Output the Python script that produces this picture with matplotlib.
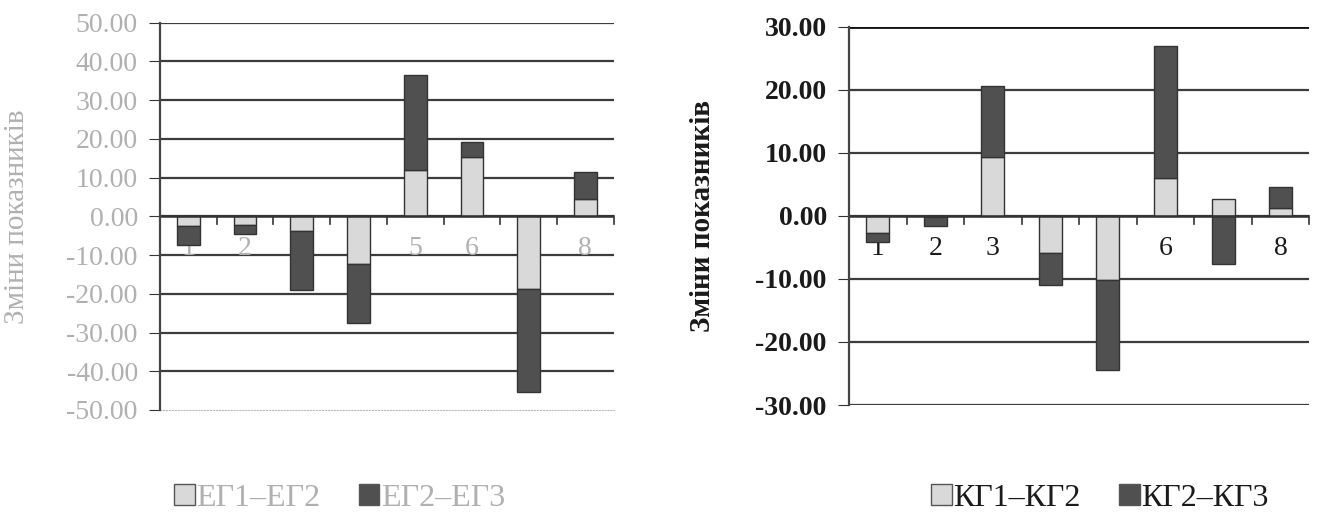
import numpy as np
import matplotlib.pyplot as plt
from matplotlib.patches import Patch

# Changes of indicators between groups, 8 indicators per panel
categories = ['1', '2', '3', '4', '5', '6', '7', '8']

# left panel: ЕГ1–ЕГ2 and ЕГ2–ЕГ3
eg12 = [-2.6, -2.2, -3.9, -12.2, 11.9, 15.3, -18.8, 4.6]
eg23 = [-4.9, -2.3, -15.1, -15.4, 24.5, 3.8, -26.5, 6.8]

# right panel: КГ1–КГ2 and КГ2–КГ3
kg12 = [-2.7, -0.2, 9.3, -5.9, -10.1, 6.1, 2.7, 1.2]
kg23 = [-1.4, -1.4, 11.3, -5.0, -14.3, 20.8, -7.7, 3.4]

left_legend = ['ЕГ1–ЕГ2', 'ЕГ2–ЕГ3']
right_legend = ['КГ1–КГ2', 'КГ2–КГ3']
ylabel = 'Зміни показників'

light = '#d9d9d9'
dark = '#505050'

plt.rcParams['font.family'] = ['Liberation Serif', 'DejaVu Serif']

fig = plt.figure(figsize=(13.19, 5.17), dpi=100)


def stacked(ax, first, second, ylim, step, txt_color, weight, label_y,
            grid_color, names, legend_xy, fs):
    x = np.arange(len(categories))
    first = np.array(first)
    second = np.array(second)
    # positives stack on positives, negatives on negatives
    bottom = np.where(np.sign(first) == np.sign(second), first, 0)
    ax.bar(x, first, width=0.4, color=light, edgecolor='#333333',
           linewidth=1.0, zorder=3)
    ax.bar(x, second, bottom=bottom, width=0.4, color=dark,
           edgecolor='#333333', linewidth=1.0, zorder=3)

    ax.set_xlim(-0.5, len(categories) - 0.5)
    ax.set_ylim(*ylim)
    ticks = np.arange(ylim[0], ylim[1] + step / 2, step)
    ax.set_yticks(ticks)
    ax.set_yticklabels(['%.2f' % t for t in ticks], color=txt_color,
                       fontsize=fs, fontweight=weight)
    for t in ticks[1:]:
        ax.axhline(t, color=grid_color, linewidth=1.6, zorder=1)
    ax.axhline(0, color='#333333', linewidth=1.8, zorder=4)

    # category boundary ticks hanging from the zero line
    for b in np.arange(0.5, len(categories) - 0.4, 1):
        ax.plot([b, b], [0, -(ylim[1] - ylim[0]) * 0.02], color='#333333',
                linewidth=1.2, zorder=4, clip_on=False)

    # category labels sit behind the bars
    for i, c in enumerate(categories):
        ax.text(i, label_y, c, ha='center', va='center', fontsize=fs,
                color=txt_color, fontweight='normal', zorder=2)

    ax.set_xticks([])
    ax.tick_params(axis='y', length=8, pad=8, color='#333333')
    for s in ['top', 'right']:
        ax.spines[s].set_visible(False)
    ax.spines['left'].set_color('#444444')
    ax.spines['left'].set_linewidth(1.6)
    ax.spines['left'].set_zorder(5)
    ax.spines['bottom'].set_color('#bbbbbb')
    ax.spines['bottom'].set_linestyle(':')
    ax.set_ylabel(ylabel, fontsize=fs + 1, color=txt_color, fontweight=weight)

    handles = [Patch(facecolor=light, edgecolor='#555555'),
               Patch(facecolor=dark, edgecolor='#555555')]
    fig.legend(handles, names, loc='center left', bbox_to_anchor=legend_xy,
               ncol=2, frameon=False, fontsize=fs + 3, handlelength=0.65,
               handleheight=0.65, handletextpad=0.05, columnspacing=1.2,
               labelcolor=txt_color)


ax1 = fig.add_axes([0.1213, 0.207, 0.344, 0.749])
stacked(ax1, eg12, eg23, (-50, 50), 10, '#b0b0b0', 'normal', -8.3,
        '#3c3c3c', left_legend, (0.11, 0.036), 20)
ax1.yaxis.set_label_coords(-0.286, 0.5)

ax2 = fig.add_axes([0.6437, 0.2166, 0.349, 0.7314])
stacked(ax2, kg12, kg23, (-30, 30), 10, '#1a1a1a', 'bold', -5.2,
        '#3c3c3c', right_legend, (0.684, 0.036), 20)
ax2.yaxis.set_label_coords(-0.29, 0.5)
ax2.spines['bottom'].set_visible(False)
ax2.axhline(-30, color='#3c3c3c', linewidth=1.6, zorder=1)
ax2.axhline(30, color='#111111', linewidth=2.0, zorder=1)

fig.savefig('out.png', dpi=100, facecolor='white')
